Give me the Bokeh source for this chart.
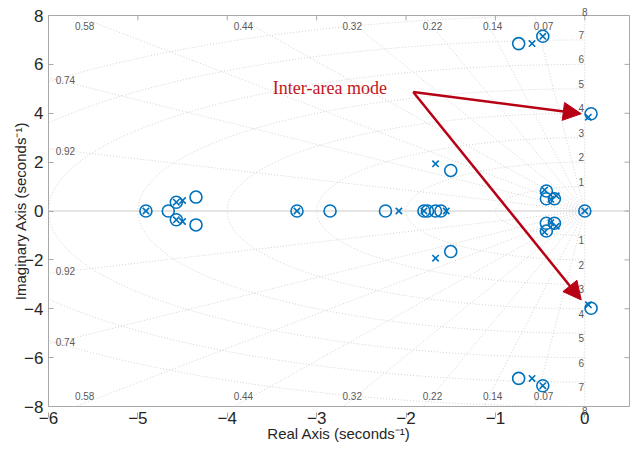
import numpy as np
from bokeh.plotting import figure
from bokeh.models import Label, Arrow, NormalHead, FixedTicker, LinearAxis
from bokeh.embed import file_html
from bokeh.resources import INLINE

# ---- data ----
pole_re = [-4.91, -4.57, -4.57, -4.50, -4.50, -3.22, -2.08, -1.80, -1.55,
           -1.67, -1.67, -0.59, -0.59, -0.47, -0.47, 0.04, 0.04, 0.00,
           -0.45, -0.45, -0.32, -0.32, -0.38, -0.38]
pole_im = [0.00, 0.36, -0.36, 0.43, -0.43, 0.00, 0.00, 0.00, 0.00,
           1.93, -1.93, 6.85, -6.85, 7.15, -7.15, 3.84, -3.84, 0.00,
           0.86, -0.86, 0.62, -0.62, 0.48, -0.48]
zero_re = [-4.91, -4.66, -4.57, -4.57, -4.35, -4.35, -3.22, -2.85, -2.23,
           -1.80, -1.76, -1.67, -1.61, -1.50, -1.50, -0.74, -0.74, -0.47, -0.47,
           0.07, 0.07, 0.00, -0.43, -0.43, -0.43, -0.43, -0.34, -0.34]
zero_im = [0.00, 0.00, 0.36, -0.36, 0.57, -0.57, 0.00, 0.00, 0.00,
           0.00, 0.00, 0.00, 0.00, 1.66, -1.66, 6.85, -6.85, 7.15, -7.15,
           3.98, -3.98, 0.00, 0.82, -0.82, 0.50, -0.50, 0.50, -0.50]

zeta_values = [0.07, 0.14, 0.22, 0.32, 0.44, 0.58, 0.74, 0.92]
zeta_labels = ["0.07", "0.14", "0.22", "0.32", "0.44", "0.58", "0.74", "0.92"]
wn_values = [1, 2, 3, 4, 5, 6, 7, 8]
x_ticks = [-6, -5, -4, -3, -2, -1, 0]
y_ticks = [-8, -6, -4, -2, 0, 2, 4, 6, 8]

BLUE = "#0072BD"
GRID = "#c8c8c8"
LBL = "#5a5a5a"
FRAME = "#a8a8a8"
XMIN, XMAX, YMIN, YMAX = -6, 0.5, -8, 8

p = figure(width=632, height=449, x_range=(XMIN, XMAX), y_range=(YMIN, YMAX),
           output_backend="svg", toolbar_location=None,
           min_border_left=48, min_border_right=3, min_border_top=15,
           min_border_bottom=43)
p.background_fill_color = "white"
p.border_fill_color = "white"
p.outline_line_color = FRAME
p.outline_line_width = 1
p.xgrid.visible = False
p.ygrid.visible = False

# ---- s-plane grid ----
t = np.linspace(-np.pi / 2, np.pi / 2, 200)
for wn in wn_values:
    p.line(-wn * np.cos(t), wn * np.sin(t), line_color=GRID, line_width=0.8,
           line_dash="1 2")
R = 20
for z in zeta_values:
    s = np.sqrt(1 - z * z)
    p.line([0, -z * R], [0, s * R], line_color=GRID, line_width=0.8, line_dash="1 2")
    p.line([0, -z * R], [0, -s * R], line_color=GRID, line_width=0.8, line_dash="1 2")
p.line([XMIN, XMAX], [0, 0], line_color="#dcdcdc", line_width=1.5)
p.line([0, 0], [YMIN, YMAX], line_color=GRID, line_width=0.8, line_dash="1 2")

# damping labels
for z, lab in zip(zeta_values, zeta_labels):
    s = np.sqrt(1 - z * z)
    xh = -z * YMAX / s
    if xh > XMIN:
        for sg in (1, -1):
            p.add_layout(Label(x=xh + 0.1, y=sg * 7.56, text=lab, text_font_size="10px",
                               text_color=LBL, text_align="center",
                               text_baseline="middle", text_font="Liberation Sans"))
    else:
        yh = XMIN * (-s / z)
        for sg in (1, -1):
            p.add_layout(Label(x=-5.92, y=sg * (yh - 0.1), text=lab, text_font_size="10px",
                               text_color=LBL, text_align="left",
                               text_baseline="middle", text_font="Liberation Sans"))
# frequency labels inside the box
for wn in wn_values:
    if wn < YMAX:
        for sg in (1, -1):
            p.add_layout(Label(x=-0.04, y=sg * (wn + 0.2), text=str(wn),
                               text_font_size="10px", text_color=LBL,
                               text_align="center", text_baseline="middle",
                               text_font="Liberation Sans"))

# outermost frequency label (just outside the box), top and bottom
wn_out = wn_values[-1]
def edge_label_axis():
    return LinearAxis(ticker=FixedTicker(ticks=[0]), major_label_overrides={0: str(wn_out)},
                      axis_line_color=None, major_tick_line_color=None,
                      minor_tick_line_color=None, major_tick_in=0, major_tick_out=0,
                      major_label_standoff=0, major_label_text_font_size="10px",
                      major_label_text_color=LBL, major_label_text_font="Liberation Sans")
p.add_layout(edge_label_axis(), "above")
bot = edge_label_axis()
p.below.insert(0, bot)

# mirrored ticks on top and right edges (inside the box)
p.segment(x0=x_ticks, y0=[YMAX] * len(x_ticks), x1=x_ticks,
          y1=[YMAX - 0.2] * len(x_ticks), line_color=FRAME, line_width=1)
p.segment(x0=[XMAX] * len(y_ticks), y0=y_ticks, x1=[XMAX - 0.056] * len(y_ticks),
          y1=y_ticks, line_color=FRAME, line_width=1)

# ---- poles and zeros ----
p.scatter(zero_re, zero_im, marker="circle", size=12, fill_color=None,
          line_color=BLUE, line_width=1.6)
p.scatter(pole_re, pole_im, marker="x", size=9, line_color=BLUE, line_width=1.6)

# ---- annotation ----
RED = "#B80014"
p.add_layout(Label(x=-3.49, y=5.02, text="Inter-area mode", text_font="Liberation Serif",
                   text_font_size="18px", text_color="#C4161C", text_align="left",
                   text_baseline="middle"))
for ye in (3.98, -3.64):
    p.add_layout(Arrow(x_start=-1.92, y_start=4.87, x_end=-0.04, y_end=ye,
                       line_color=RED, line_width=2.5,
                       end=NormalHead(size=18, fill_color=RED, line_color=RED)))

# ---- axes ----
xa = p.below[1]
ya = p.left[0]
for ax in (xa, ya):
    ax.axis_line_color = None
    ax.major_tick_in = 5
    ax.major_tick_out = 0
    ax.minor_tick_line_color = None
    ax.major_tick_line_color = FRAME
    ax.major_label_text_font = "Liberation Sans"
    ax.major_label_text_font_size = "17px"
    ax.major_label_text_color = "#262626"
    ax.axis_label_text_font = "Liberation Sans"
    ax.axis_label_text_font_size = "15px"
    ax.axis_label_text_font_style = "normal"
    ax.axis_label_text_color = "#262626"
    ax.major_label_standoff = 5
    ax.axis_label_standoff = 0
xa.major_label_standoff = -6
xa.axis_label_standoff = -2
ya.axis_label_standoff = -8
xa.ticker = FixedTicker(ticks=x_ticks)
ya.ticker = FixedTicker(ticks=y_ticks)
xa.axis_label = "Real Axis (seconds⁻¹)"
ya.axis_label = "Imaginary Axis (seconds⁻¹)"

open("out.html", "w").write(file_html(p, INLINE))
